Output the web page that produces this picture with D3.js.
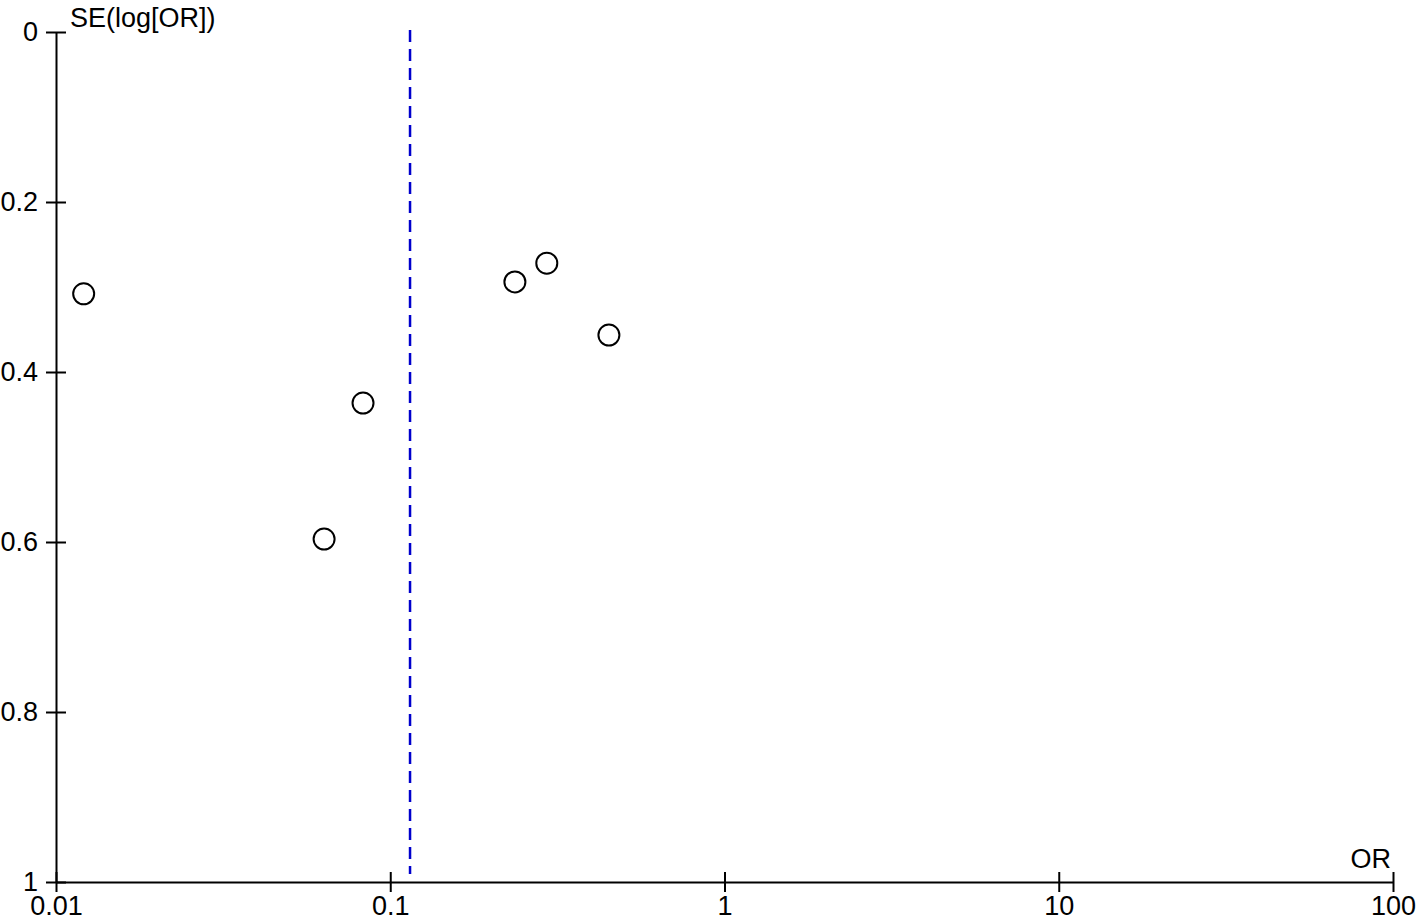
<!DOCTYPE html>
<html><head><meta charset="utf-8">
<script src="https://cdn.jsdelivr.net/npm/d3@7"></script>
<style>
html,body{margin:0;padding:0;background:#fff;}
svg text{font-family:"Liberation Sans",Arial,sans-serif;font-size:27px;fill:#000;}
</style></head>
<body>
<svg id="chart" width="1418" height="921"></svg>
<script>
// Data
const studyOR = [0.0121, 0.0829, 0.0634, 0.236, 0.294, 0.451];
const studySE = [0.308, 0.4365, 0.5965, 0.294, 0.272, 0.3565];
const pooledOR = 0.1146;
const xTicks = [0.01, 0.1, 1, 10, 100];
const xTickLabels = ["0.01", "0.1", "1", "10", "100"];
const yTicks = [0, 0.2, 0.4, 0.6, 0.8, 1];
const yTickLabels = ["0", "0.2", "0.4", "0.6", "0.8", "1"];

const svg = d3.select("#chart");
const x = d3.scaleLog().domain([0.01, 100]).range([56, 1393]);
const y = d3.scaleLinear().domain([0, 1]).range([32, 882]);

// axes
const xAxis = d3.axisBottom(x).tickValues(xTicks).tickFormat((d,i)=>xTickLabels[i]).tickSize(10).tickSizeOuter(0);
const gx = svg.append("g").attr("transform", `translate(0,${y(1)})`).call(xAxis);
gx.select(".domain").attr("stroke","#000").attr("stroke-width",2);
gx.selectAll(".tick line").attr("stroke","#000").attr("stroke-width",2).attr("y1",-10).attr("y2",10);
gx.selectAll(".tick text").attr("font-size",27).attr("font-family","Liberation Sans, Arial, sans-serif").attr("fill","#000").attr("y",14).attr("dy","0.71em");

const yAxis = d3.axisLeft(y).tickValues(yTicks).tickFormat((d,i)=>yTickLabels[i]).tickSize(10).tickSizeOuter(0);
const gy = svg.append("g").attr("transform", `translate(${x(0.01)},0)`).call(yAxis);
gy.select(".domain").attr("stroke","#000").attr("stroke-width",2);
gy.selectAll(".tick line").attr("stroke","#000").attr("stroke-width",2).attr("x1",-10).attr("x2",10);
gy.selectAll(".tick text").attr("font-size",27).attr("font-family","Liberation Sans, Arial, sans-serif").attr("fill","#000").attr("x",-18);

// axis titles
svg.append("text").attr("x", 70).attr("y", 27).text("SE(log[OR])");
svg.append("text").attr("x", 1391).attr("y", 868).attr("text-anchor","end").text("OR");

// pooled estimate dashed line
svg.append("line")
  .attr("x1", x(pooledOR)).attr("x2", x(pooledOR))
  .attr("y1", y(0)-2).attr("y2", y(1)-8)
  .attr("stroke", "#0000cc").attr("stroke-width", 2.5)
  .attr("stroke-dasharray", "12,7");

// study points
svg.append("g").selectAll("circle")
  .data(studyOR.map((d,i)=>({or:d, se:studySE[i]})))
  .join("circle")
  .attr("cx", d=>x(d.or)).attr("cy", d=>y(d.se))
  .attr("r", 10.5)
  .attr("fill","none").attr("stroke","#000").attr("stroke-width",2);
</script>
</body></html>
